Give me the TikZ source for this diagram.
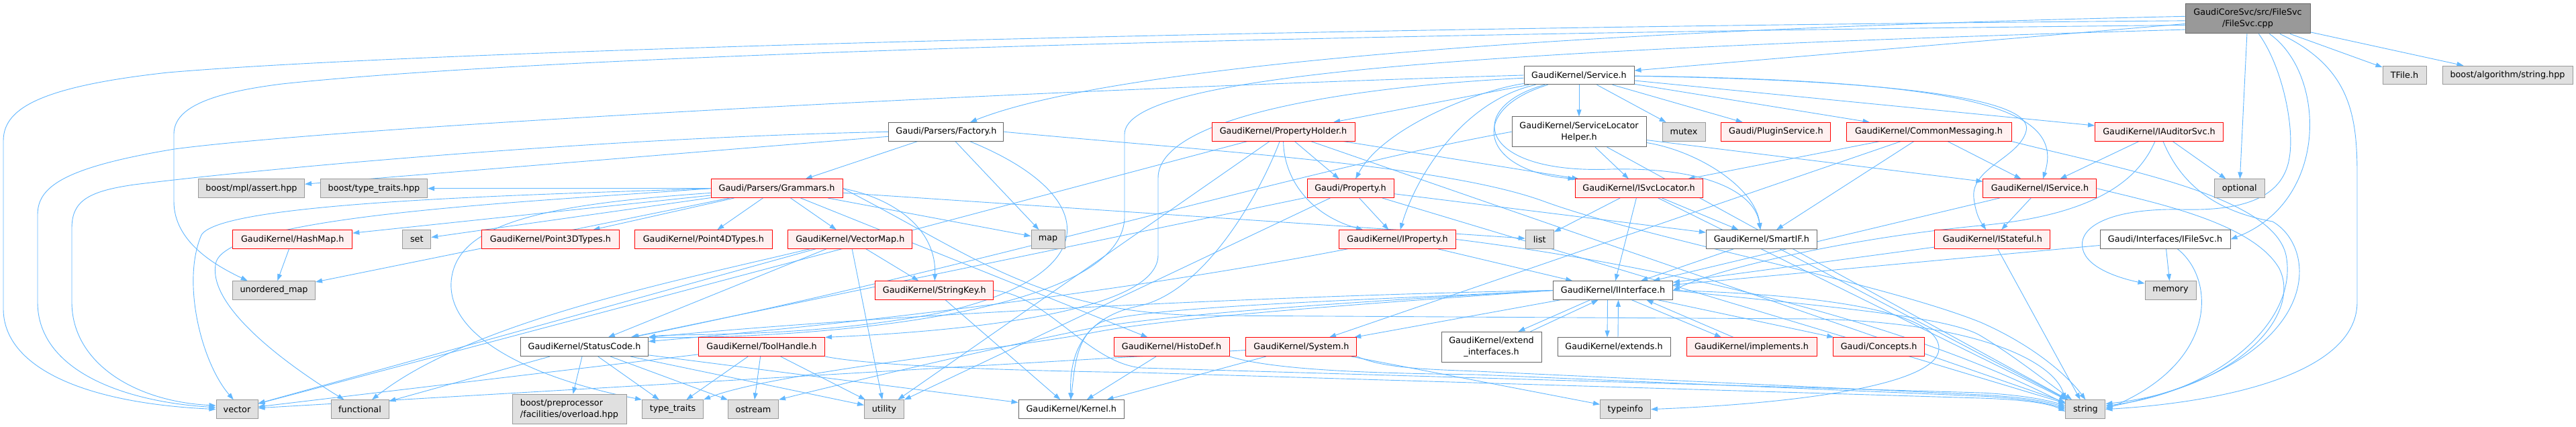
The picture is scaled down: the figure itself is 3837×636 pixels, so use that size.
\documentclass[tikz,border=0pt]{standalone}
\usepackage{fontspec}
\setmainfont{DejaVu Sans}
\usetikzlibrary{arrows.meta}
\definecolor{edgec}{HTML}{63B8FF}
\definecolor{wborder}{HTML}{666666}
\definecolor{gborder}{HTML}{999999}
\definecolor{gfill}{HTML}{E0E0E0}
\definecolor{rfill}{HTML}{FFF0F0}
\definecolor{rootfill}{HTML}{999999}
\pgfdeclarelayer{bg}
\pgfsetlayers{bg,main}
\begin{document}
\begin{tikzpicture}[x=1pt,y=-1pt,
  nb/.style={draw, rectangle, inner sep=0pt, minimum height=27.6pt, line width=1pt, align=center, font=\fontsize{12.8}{17}\selectfont, text=black},
  wbox/.style={nb, draw=wborder, fill=white},
  gbox/.style={nb, draw=gborder, fill=gfill},
  rbox/.style={nb, draw=red, fill=rfill},
  rootbox/.style={nb, draw=wborder, fill=rootfill},
  tall/.style={minimum height=44.7pt},
  edg/.style={draw=edgec, line width=0.9pt, -{Triangle[length=10pt,width=7pt]}}
]
\useasboundingbox (0,0) rectangle (3837,636);
% ---------------- nodes ----------------
\node[rootbox, tall, minimum width=186pt] (fs) at (3348,27.6) {GaudiCoreSvc/src/FileSvc\\/FileSvc.cpp};
\node[wbox, minimum width=164pt] (service) at (2352,112) {GaudiKernel/Service.h};
\node[gbox, minimum width=65pt] (tfile) at (3581.5,112) {TFile.h};
\node[gbox, minimum width=194pt] (boostalg) at (3735,112) {boost/algorithm/string.hpp};
\node[wbox, minimum width=171pt] (factory) at (1409.4,196.3) {Gaudi/Parsers/Factory.h};
\node[rbox, minimum width=213pt] (propholder) at (1911.5,196.3) {GaudiKernel/PropertyHolder.h};
\node[wbox, tall, minimum width=200pt] (slh) at (2352,196.3) {GaudiKernel/ServiceLocator\\Helper.h};
\node[gbox, minimum width=64pt] (mutex) at (2508,196.3) {mutex};
\node[rbox, minimum width=163pt] (plugin) at (2645.4,196.3) {Gaudi/PluginService.h};
\node[rbox, minimum width=246pt] (commonmsg) at (2873,196.3) {GaudiKernel/CommonMessaging.h};
\node[rbox, minimum width=191pt] (iauditor) at (3216,196.3) {GaudiKernel/IAuditorSvc.h};
\node[gbox, minimum width=158pt] (boostmpl) at (374.5,280.7) {boost/mpl/assert.hpp};
\node[gbox, minimum width=159pt] (boosttt) at (557,280.7) {boost/type\_traits.hpp};
\node[rbox, minimum width=196pt] (grammars) at (1157,280.7) {Gaudi/Parsers/Grammars.h};
\node[rbox, minimum width=129pt] (property) at (2011.5,280.7) {Gaudi/Property.h};
\node[rbox, minimum width=190pt] (isvclocator) at (2441,280.7) {GaudiKernel/ISvcLocator.h};
\node[rbox, minimum width=169pt] (iservice) at (3038.4,280.7) {GaudiKernel/IService.h};
\node[gbox, minimum width=75pt] (optional) at (3335.7,280.7) {optional};
\node[rbox, minimum width=178pt] (hashmap) at (435.8,356.5) {GaudiKernel/HashMap.h};
\node[gbox, minimum width=42pt] (set) at (620.8,356.5) {set};
\node[rbox, minimum width=205pt] (point3d) at (819.9,356.5) {GaudiKernel/Point3DTypes.h};
\node[rbox, minimum width=205pt] (point4d) at (1047.8,356.5) {GaudiKernel/Point4DTypes.h};
\node[rbox, minimum width=185pt] (vectormap) at (1266.3,356.5) {GaudiKernel/VectorMap.h};
\node[gbox, minimum width=50pt] (map) at (1561,356.5) {map};
\node[rbox, minimum width=174pt] (iproperty) at (2081.5,356.5) {GaudiKernel/IProperty.h};
\node[gbox, minimum width=42pt] (list) at (2293.3,356.5) {list};
\node[wbox, minimum width=165pt] (smartif) at (2623.8,356.5) {GaudiKernel/SmartIF.h};
\node[rbox, minimum width=172pt] (istateful) at (2967.8,356.5) {GaudiKernel/IStateful.h};
\node[wbox, minimum width=194pt] (ifilesvc) at (3225,356.5) {Gaudi/Interfaces/IFileSvc.h};
\node[gbox, minimum width=123pt] (umap) at (408,432.5) {unordered\_map};
\node[rbox, minimum width=176pt] (stringkey) at (1391.8,432.5) {GaudiKernel/StringKey.h};
\node[wbox, minimum width=178pt] (iinterface) at (2402.5,432.5) {GaudiKernel/IInterface.h};
\node[gbox, minimum width=76pt] (memory) at (3233,432.5) {memory};
\node[wbox, minimum width=190pt] (statuscode) at (870.5,516.7) {GaudiKernel/StatusCode.h};
\node[rbox, minimum width=188pt] (toolhandle) at (1134.6,516.7) {GaudiKernel/ToolHandle.h};
\node[rbox, minimum width=172pt] (histodef) at (1745,516.7) {GaudiKernel/HistoDef.h};
\node[rbox, minimum width=165pt] (system) at (1938.4,516.7) {GaudiKernel/System.h};
\node[wbox, tall, minimum width=149pt] (extint) at (2221.5,516.7) {GaudiKernel/extend\\\_interfaces.h};
\node[wbox, minimum width=168pt] (extends) at (2404,516.7) {GaudiKernel/extends.h};
\node[rbox, minimum width=194pt] (implements) at (2609,516.7) {GaudiKernel/implements.h};
\node[rbox, minimum width=136pt] (concepts) at (2798.6,516.7) {Gaudi/Concepts.h};
\node[gbox, minimum width=62pt] (vector) at (353,609.6) {vector};
\node[gbox, minimum width=86pt] (functional) at (536,609.6) {functional};
\node[gbox, tall, minimum width=170pt, align=left] (overload) at (848,609.6) {boost/preprocessor\\/facilities/overload.hpp};
\node[gbox, minimum width=91pt] (typetraits) at (1002,609.6) {type\_traits};
\node[gbox, minimum width=75pt] (ostream) at (1122,609.6) {ostream};
\node[gbox, minimum width=59pt] (utility) at (1317,609.6) {utility};
\node[wbox, minimum width=157.5pt] (kernel) at (1595.8,609.6) {GaudiKernel/Kernel.h};
\node[gbox, minimum width=75pt] (typeinfo) at (2421,609.6) {typeinfo};
\node[gbox, minimum width=59pt] (string) at (3106.4,609.6) {string};
% ---------------- edges ----------------
\begin{pgfonlayer}{bg}
\fill[white] (0,0) rectangle (3837,636);
% FileSvc.cpp
\draw[edg] (fs) -- (service);
\draw[edg] (fs) -- (tfile);
\draw[edg] (fs) -- (boostalg);
\draw[edg] (fs) -- (optional);
\draw[edg] (fs) .. controls (3465,110) and (3470,300) .. (ifilesvc.east);
\draw[edg] (fs) .. controls (3500,100) and (3511,170) .. (3511,260) -- (3511,450) .. controls (3511,560) and (3300,600) .. (string.east);
\draw[edg] (fs) .. controls (3400,100) and (3418,190) .. (3410,235) .. controls (3400,300) and (3330,314) .. (3250,312) .. controls (3150,310) and (3095,335) .. (3102,370) .. controls (3108,400) and (3160,415) .. (memory.165);
\draw[edg] (fs.182) .. controls (1800,42) and (600,78) .. (250,108) .. controls (50,130) and (5,165) .. (5,210) -- (5,460) .. controls (5,545) and (120,600) .. (vector.west);
\draw[edg] (fs.186) .. controls (1500,55) and (700,95) .. (420,125) .. controls (300,140) and (259,165) .. (259,200) -- (259,300) .. controls (259,360) and (320,395) .. (umap.160);
\draw[edg] (fs.178) .. controls (2300,45) and (1650,100) .. (factory);
\draw[edg] (fs.190) .. controls (2200,75) and (1675,110) .. (1675,200) -- (1675,320) .. controls (1680,470) and (1200,505) .. (statuscode.north east);
% Service.h
\draw[edg] (service) -- (slh);
\draw[edg] (service) -- (mutex);
\draw[edg] (service) -- (plugin);
\draw[edg] (service) -- (commonmsg);
\draw[edg] (service) -- (iauditor);
\draw[edg] (service) -- (propholder);
\draw[edg] (service) .. controls (2200,135) and (2060,190) .. (property);
\draw[edg] (service) .. controls (2180,150) and (2110,260) .. (iproperty);
\draw[edg] (service) .. controls (2180,165) and (2210,255) .. (isvclocator.north west);
\draw[edg] (service) .. controls (2180,160) and (2200,260) .. (2400,252) .. controls (2550,249) and (2615,290) .. (smartif);
\draw[edg] (service) .. controls (2950,120) and (3075,165) .. (iservice);
\draw[edg] (service) .. controls (2850,120) and (3030,150) .. (3018,195) .. controls (3008,235) and (2935,250) .. (2940,295) .. controls (2943,320) and (2950,330) .. (istateful);
\draw[edg] (service) .. controls (2000,130) and (1725,175) .. (1725,265) -- (1725,380) .. controls (1725,470) and (1400,495) .. (toolhandle.north east);
\draw[edg] (service.west) .. controls (1500,135) and (500,190) .. (260,222) .. controls (90,250) and (56,280) .. (56,320) -- (56,450) .. controls (56,550) and (180,598) .. (vector.175);
% ServiceLocatorHelper.h
\draw[edg] (slh) -- (isvclocator);
\draw[edg] (slh) .. controls (2530,225) and (2615,280) .. (smartif);
\draw[edg] (slh) -- (iservice);
\draw[edg] (slh) -- (string);
\draw[edg] (slh.west) .. controls (1950,250) and (1450,400) .. (statuscode);
% PropertyHolder.h
\draw[edg] (propholder) -- (property);
\draw[edg] (propholder) .. controls (1912,265) and (1950,320) .. (iproperty);
\draw[edg] (propholder) -- (isvclocator);
\draw[edg] (propholder) .. controls (1880,280) and (1800,430) .. (1700,455) .. controls (1620,470) and (1592,520) .. (kernel);
\draw[edg] (propholder) -- (string);
\draw[edg] (propholder) -- (vector);
\draw[edg] (propholder) -- (utility);
% Gaudi/Property.h
\draw[edg] (property) -- (iproperty);
\draw[edg] (property) -- (smartif);
\draw[edg] (property) -- (string);
\draw[edg] (property) -- (utility);
\draw[edg] (property) -- (statuscode);
% ISvcLocator.h
\draw[edg] (isvclocator) -- (list);
\draw[edg] (isvclocator) -- (iinterface);
\draw[edg] (isvclocator) -- (smartif);
\draw[edg] (isvclocator) -- (string);
% CommonMessaging.h
\draw[edg] (commonmsg) -- (isvclocator);
\draw[edg] (commonmsg) -- (smartif);
\draw[edg] (commonmsg) -- (iservice);
\draw[edg] (commonmsg) -- (system);
\draw[edg] (commonmsg.south east) .. controls (3150,250) and (3385,290) .. (3405,380) .. controls (3425,480) and (3300,585) .. (string.10);
% IAuditorSvc.h
\draw[edg] (iauditor) -- (iservice);
\draw[edg] (iauditor) -- (optional);
\draw[edg] (iauditor) .. controls (3180,280) and (3100,322) .. (2950,336) .. controls (2750,355) and (2560,400) .. (iinterface.east);
\draw[edg] (iauditor) .. controls (3255,290) and (3320,318) .. (3385,330) .. controls (3455,370) and (3465,540) .. (string.5);
% IService.h
\draw[edg] (iservice) -- (istateful);
\draw[edg] (iservice) -- (iinterface);
\draw[edg] (iservice.east) .. controls (3200,300) and (3355,330) .. (3395,400) .. controls (3430,470) and (3330,580) .. (string.15);
% IStateful.h
\draw[edg] (istateful) -- (iinterface);
\draw[edg] (istateful) -- (string);
% IProperty.h
\draw[edg] (iproperty) -- (iinterface);
\draw[edg] (iproperty.east) .. controls (2400,385) and (2800,460) .. (string.165);
\draw[edg] (iproperty) .. controls (1700,430) and (1300,480) .. (statuscode);
% SmartIF.h
\draw[edg] (smartif) -- (iinterface);
\draw[edg] (smartif) -- (string);
% IFileSvc.h
\draw[edg] (ifilesvc) -- (iinterface);
\draw[edg] (ifilesvc) -- (memory);
\draw[edg] (ifilesvc) .. controls (3300,415) and (3305,540) .. (string.east);
% Grammars.h
\draw[edg] (grammars) -- (boosttt);
\draw[edg] (grammars) -- (hashmap);
\draw[edg] (grammars) -- (set);
\draw[edg] (grammars) -- (point3d);
\draw[edg] (grammars) -- (point4d);
\draw[edg] (grammars) -- (vectormap);
\draw[edg] (grammars.east) .. controls (1330,295) and (1395,340) .. (stringkey);
\draw[edg] (grammars) -- (map);
\draw[edg] (grammars) -- (list);
\draw[edg] (grammars) -- (histodef);
\draw[edg] (grammars) -- (umap);
\draw[edg] (grammars.west) .. controls (800,290) and (330,300) .. (300,350) .. controls (270,420) and (300,540) .. (vector.110);
\draw[edg] (grammars.west) .. controls (800,300) and (345,320) .. (322,390) .. controls (305,455) and (430,545) .. (functional);
\draw[edg] (grammars) .. controls (800,305) and (678,335) .. (672,420) .. controls (667,505) and (800,565) .. (typetraits.north west);
\draw[edg] (grammars.east) .. controls (1450,380) and (1550,468) .. (1800,470) -- (2700,475) .. controls (2950,480) and (3060,540) .. (string.north west);
% Factory.h
\draw[edg] (factory) -- (grammars);
\draw[edg] (factory) -- (map);
\draw[edg] (factory) -- (boostmpl);
\draw[edg] (factory) .. controls (1640,290) and (1650,410) .. (1400,466) .. controls (1200,505) and (1000,496) .. (statuscode.north east);
\draw[edg] (factory.east) .. controls (1800,225) and (2150,245) .. (2300,300) .. controls (2450,355) and (2800,420) .. (2950,480) .. controls (3030,515) and (3080,560) .. (string.north);
\draw[edg] (factory.west) .. controls (900,205) and (400,250) .. (200,275) .. controls (130,285) and (107,300) .. (107,340) -- (107,450) .. controls (107,540) and (200,598) .. (vector.170);
% HashMap.h
\draw[edg] (hashmap) -- (umap);
% VectorMap.h
\draw[edg] (vectormap) -- (statuscode);
\draw[edg] (vectormap) -- (utility);
\draw[edg] (vectormap) -- (stringkey);
\draw[edg] (vectormap) -- (vector);
\draw[edg] (vectormap) .. controls (1000,420) and (700,480) .. (functional);
% StringKey.h
\draw[edg] (stringkey) -- (kernel);
\draw[edg] (stringkey.east) .. controls (1560,440) and (1620,540) .. (1700,548) -- (2950,585) .. controls (3010,588) and (3050,596) .. (string.170);
% HistoDef.h
\draw[edg] (histodef) -- (kernel);
\draw[edg] (histodef.south east) .. controls (1900,552) and (2050,556) .. (2200,558) -- (2950,590) .. controls (3010,593) and (3050,600) .. (string.west);
% System.h
\draw[edg] (system) -- (kernel);
\draw[edg] (system) -- (typeinfo);
\draw[edg] (system) -- (vector);
\draw[edg] (system.south east) .. controls (2060,548) and (2120,550) .. (2200,553) -- (2950,588) .. controls (3010,591) and (3050,598) .. (string.175);
% ToolHandle.h
\draw[edg] (toolhandle) -- (typetraits);
\draw[edg] (toolhandle) -- (ostream);
\draw[edg] (toolhandle) -- (utility);
\draw[edg] (toolhandle) -- (vector);
\draw[edg] (toolhandle.south east) .. controls (1300,545) and (1500,552) .. (1700,555) -- (2950,593) .. controls (3010,595) and (3050,600) .. (string.186);
% StatusCode.h
\draw[edg] (statuscode) -- (overload);
\draw[edg] (statuscode) -- (typetraits);
\draw[edg] (statuscode) -- (ostream);
\draw[edg] (statuscode) -- (utility);
\draw[edg] (statuscode) -- (kernel);
\draw[edg] (statuscode) -- (functional);
% IInterface.h
\draw[edg] ([xshift=-34pt]iinterface.south) -- ([xshift=40pt]extint.north);
\draw[edg] ([xshift=58pt]extint.north) -- ([xshift=-22pt]iinterface.south);
\draw[edg] ([xshift=-8pt]iinterface.south) -- ([xshift=-10pt]extends.north);
\draw[edg] ([xshift=6pt]extends.north) -- ([xshift=8pt]iinterface.south);
\draw[edg] ([xshift=28pt]iinterface.south) -- ([xshift=-45pt]implements.north);
\draw[edg] ([xshift=-27pt]implements.north) -- ([xshift=50pt]iinterface.south);
\draw[edg] (iinterface) -- (concepts);
\draw[edg] (iinterface) -- (system);
\draw[edg] (iinterface.east) .. controls (2750,440) and (2890,470) .. (2888,520) .. controls (2886,570) and (2700,600) .. (typeinfo.east);
\draw[edg] (iinterface.east) .. controls (2700,455) and (2900,470) .. (2950,500) .. controls (3000,530) and (3050,570) .. (string);
\draw[edg] (iinterface.west) .. controls (1900,440) and (1300,470) .. (statuscode.north east);
\draw[edg] (iinterface.west) .. controls (2100,445) and (1700,455) .. (1640,480) .. controls (1600,500) and (1600,560) .. (kernel.95);
\draw[edg] (iinterface.west) .. controls (2100,445) and (1750,465) .. (1620,490) .. controls (1520,510) and (1300,560) .. (ostream.north east);
\draw[edg] (iinterface.west) .. controls (2100,448) and (1760,470) .. (1630,495) .. controls (1500,520) and (1150,555) .. (typetraits.north east);
% extend_interfaces.h, extends.h, implements.h -> IInterface drawn above
\end{pgfonlayer}
\end{tikzpicture}
\end{document}
